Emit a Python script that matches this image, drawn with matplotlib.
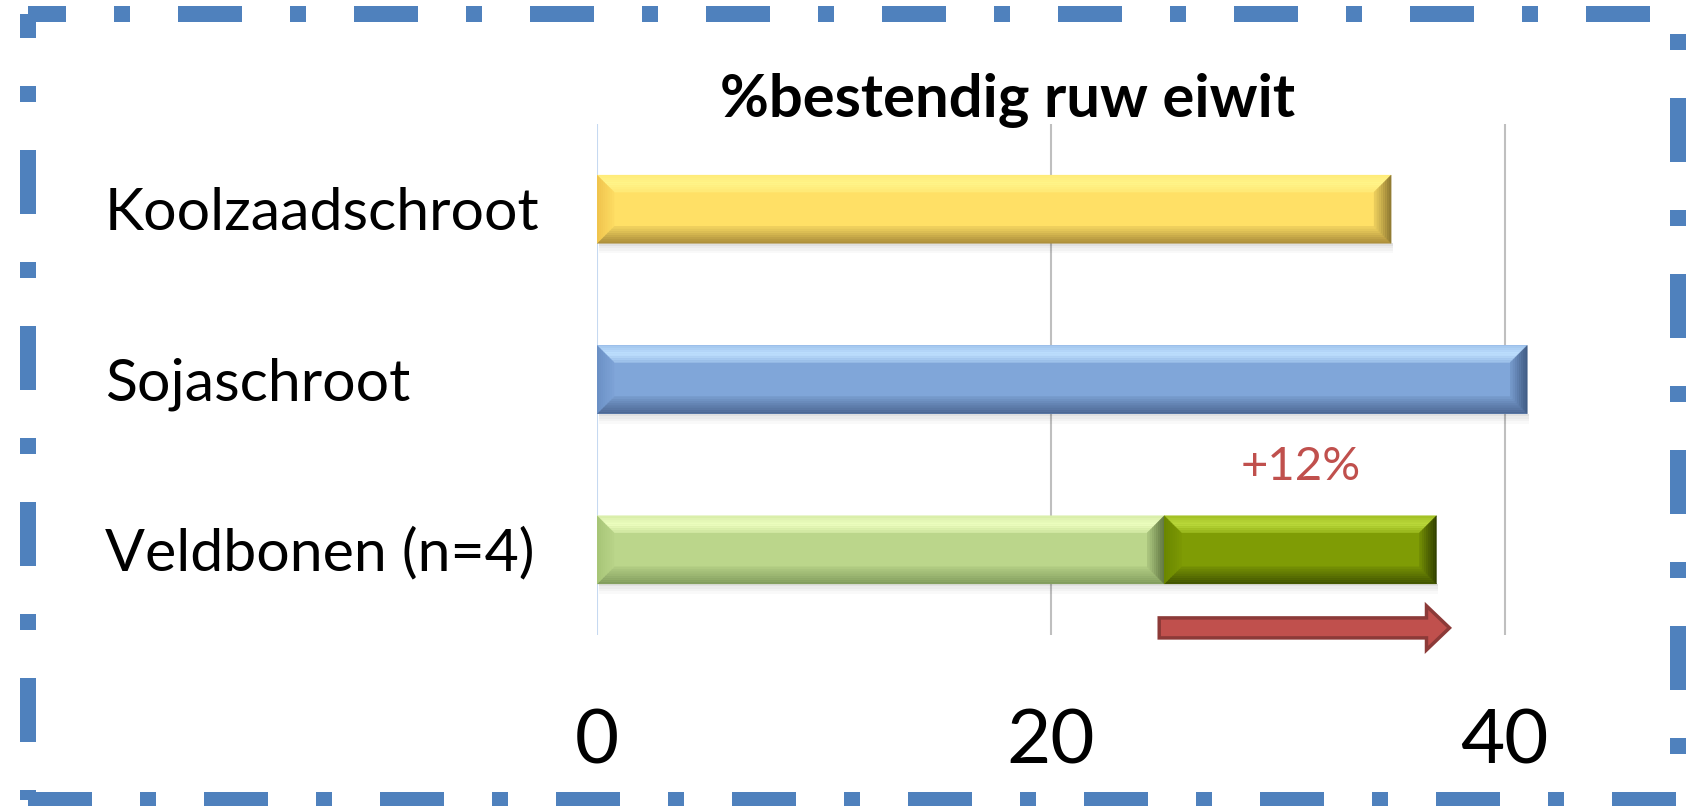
import matplotlib
matplotlib.use("Agg")
import matplotlib.pyplot as plt
from matplotlib.lines import Line2D
from matplotlib.patches import Polygon, Rectangle, FancyArrow
import matplotlib.colors as mcolors
import matplotlib.transforms as mtrans
import numpy as np

# ---------------- data ----------------
categories = ["Koolzaadschroot", "Sojaschroot", "Veldbonen (n=4)"]
base_values = [35, 41, 25]
increase_values = [0, 0, 12]
xticks = [0, 20, 40]
title = "%bestendig ruw eiwit"

# ---------------- style ----------------
W, H = 1688, 806
FONT = "Lato"
base_colors = ["#FFE066", "#80A6D9", "#BBD68B"]
inc_color = "#7F9C05"
bevels = {
    "#FFE066": dict(top="#FFF58A", bot="#A98C3A", left="#EFC24C", right="#8C7630"),
    "#80A6D9": dict(top="#BFE0FF", bot="#4A6590", left="#6A8FC4", right="#3F5A82"),
    "#BBD68B": dict(top="#EEFFC0", bot="#7F9A5C", left="#A6C476", right="#5E7440"),
    "#7F9C05": dict(top="#BCDB3C", bot="#3E5000", left="#698500", right="#2E3C00"),
}

fig = plt.figure(figsize=(W / 100, H / 100), dpi=100)
ax_left, ax_right, ax_top, ax_bot = 597, 1618, 124, 635
ax = fig.add_axes([ax_left / W, 1 - ax_bot / H, (ax_right - ax_left) / W, (ax_bot - ax_top) / H])
ax.set_xlim(0, 45)
ax.set_ylim(len(categories) - 0.5, -0.5)
for s in ax.spines.values():
    s.set_visible(False)
ax.set_yticks([])
ax.set_xticks(xticks)
ax.set_xticklabels([str(t) for t in xticks], fontsize=55, family=FONT)
ax.tick_params(axis="x", length=0, pad=52)
for t in xticks:
    ax.axvline(t, color="#C6D9F1" if t == 0 else "#BFBFBF", lw=1.5, zorder=0)

xpp = 45 / (ax_right - ax_left)   # data units per pixel (x)
ypp = 3 / (ax_bot - ax_top)       # data units per pixel (y)
bar_h = 0.4
ypos = list(range(len(categories)))


def mix(c1, c2, t):
    a = np.array(mcolors.to_rgb(c1)); b = np.array(mcolors.to_rgb(c2))
    return tuple(a + (b - a) * t)


def bevel(patch, base, colors):
    x0 = patch.get_x(); x1 = x0 + patch.get_width()
    yt = patch.get_y(); yb = yt + patch.get_height()
    bx, by = 17 * xpp, 17 * ypp
    z = patch.get_zorder() + 0.1
    # soft shadow under the bar
    for k, a in enumerate([0.12, 0.08, 0.05, 0.025]):
        ax.add_patch(Rectangle((x0 + 2 * xpp, yb + k * 2.5 * ypp), x1 - x0, 2.5 * ypp,
                               color="black", alpha=a, lw=0, zorder=1))
    n = 8
    for i in range(n):
        f1, f2 = i / n, (i + 1) / n
        t = (i + 0.5) / n
        def box(f):
            return x0 + f * bx, yt + f * by, x1 - f * bx, yb - f * by
        a1, b1, c1, d1 = box(f1)
        a2, b2, c2, d2 = box(f2)
        sides = [
            ([(a1, b1), (c1, b1), (c2, b2), (a2, b2)], "top"),
            ([(a1, d1), (c1, d1), (c2, d2), (a2, d2)], "bot"),
            ([(a1, b1), (a2, b2), (a2, d2), (a1, d1)], "left"),
            ([(c1, b1), (c2, b2), (c2, d2), (c1, d1)], "right"),
        ]
        for pts, key in sides:
            if key == "top":
                col = mix(mix(colors["top"], base, 0.45), colors["top"], min(1, t * 2)) if t < 0.5 \
                    else mix(colors["top"], base, (t - 0.5) * 1.2)
            else:
                col = mix(colors[key], base, t * 0.85)
            ax.add_patch(Polygon(pts, closed=True, fc=col, ec=col, lw=0.3, zorder=z))


bars = ax.barh(ypos, base_values, height=bar_h, color=base_colors, zorder=2)
for p, c in zip(bars, base_colors):
    bevel(p, c, bevels[c])
inc_bars = ax.barh(ypos, increase_values, left=base_values, height=bar_h, color=inc_color, zorder=3)
for p, v in zip(inc_bars, increase_values):
    if v > 0:
        bevel(p, inc_color, bevels[inc_color])
        xc = p.get_x() + p.get_width() / 2
        ax.annotate(f"+{v:g}%", (xc, p.get_y()), xytext=(0, 26), textcoords="offset points",
                    ha="center", va="baseline", fontsize=34, family=FONT, color="#C0504D")
        tail = p.get_x() - 5 * xpp
        tip = p.get_x() + p.get_width() + 13 * xpp
        ya = p.get_y() + p.get_height() + 44 * ypp
        ax.add_patch(FancyArrow(tail, ya, tip - tail, 0, width=20 * ypp, head_width=44 * ypp,
                                head_length=23 * xpp, length_includes_head=True,
                                fc="#C0504D", ec="#8C3A38", lw=2.5, clip_on=False, zorder=4))

# category labels (left-aligned)
lab_tr = mtrans.offset_copy(mtrans.blended_transform_factory(fig.transFigure, ax.transData),
                            fig=fig, y=-21, units="dots")
for y, c in zip(ypos, categories):
    fig.text(105 / W, y, c, transform=lab_tr, ha="left", va="baseline", fontsize=42.5, family=FONT)

fig.text(1008 / W, 1 - 117 / H, title, ha="center", va="baseline", fontsize=43,
         fontweight="bold", family=FONT)

# dash-dot border
def fx(x): return x / W
def fy(y): return 1 - y / H
lw_px = 16
lw_pt = lw_px * 0.72
pattern = (4, 3, 1, 3)
L, R, T, B = 28, 1678, 13.7, 800
pathA = Line2D([fx(L), fx(R), fx(R), fx(L)], [fy(T), fy(T), fy(B), fy(B)],
               transform=fig.transFigure, color="#4F81BD", lw=lw_pt,
               linestyle=(26 / lw_px, pattern), dash_capstyle="butt", solid_joinstyle="miter")
pathB = Line2D([fx(L), fx(L)], [fy(B), fy(T)], transform=fig.transFigure, color="#4F81BD",
               lw=lw_pt, linestyle=(118 / lw_px, pattern), dash_capstyle="butt")
fig.add_artist(pathA)
fig.add_artist(pathB)

fig.savefig("out.png", dpi=100)
